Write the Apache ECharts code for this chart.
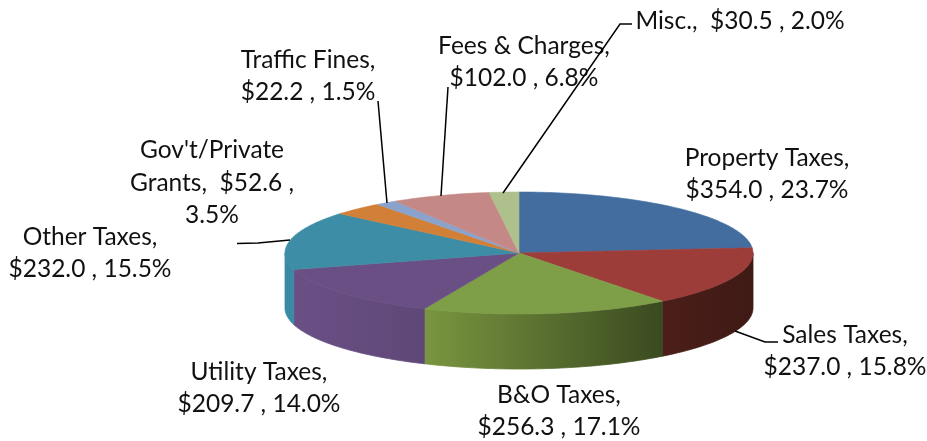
<!DOCTYPE html>
<html>
<head>
<meta charset="utf-8">
<style>html,body{margin:0;padding:0;background:#fff}#c{width:927px;height:441px}</style>
<script src="https://cdn.jsdelivr.net/npm/echarts@6/dist/echarts.min.js"></script>
</head>
<body>
<div id="c"></div>
<script>
const categories = ["Property Taxes","Sales Taxes","B&O Taxes","Utility Taxes","Other Taxes","Gov't/Private Grants","Traffic Fines","Fees & Charges","Misc."];
const values = [354.0,237.0,256.3,209.7,232.0,52.6,22.2,102.0,30.5];
const percents = ["23.7%","15.8%","17.1%","14.0%","15.5%","3.5%","1.5%","6.8%","2.0%"];

const topColors = ['#426d9e','#9c3d3a','#7f9e48','#6a4f85','#3c8da5','#d27f37','#8aa3cc','#c48886','#aec08c'];
const wallColors = [['#2f4f75','#2f4f75'],['#4c1e19','#3f1a15'],['#7a9640','#3a4a20'],['#6a4f85','#5f4878'],['#3a8aa5','#3a8aa5'],['#d27f37','#d27f37'],['#8aa3cc','#8aa3cc'],['#c48886','#c48886'],['#aec08c','#aec08c']];

// label layout: text centre [x, y], leader polyline
const labelLayout = [
  {x:767,y:174},
  {x:845,y:351},
  {x:559,y:411},
  {x:259,y:388},
  {x:90,y:253},
  {x:212,y:183},
  {x:308,y:76},
  {x:524,y:62},
  {x:740,y:21}
];
const leaders = [
  null,
  [[735,331],[765,342],[778,342]],
  null,
  null,
  [[290,240],[258,243],[237,243.5]],
  null,
  [[387,203],[378,101]],
  [[441,196],[448,87]],
  [[503,193],[620,24],[632,24]]
];

const cx = 519, cy = 253, rx = 234, ry = 61, depth = 55;
const total = values.reduce((a,b)=>a+b,0);
function bounds(i){
  let s = 0;
  for (let k=0;k<i;k++) s += values[k];
  return [s/total*Math.PI*2,(s+values[i])/total*Math.PI*2];
}
function pt(t,dy){ return [cx+rx*Math.sin(t), cy-ry*Math.cos(t)+(dy||0)]; }
function arc(a,b,dy){
  const n = Math.max(2,Math.ceil((b-a)/0.02)), out=[];
  for(let k=0;k<=n;k++) out.push(pt(a+(b-a)*k/n,dy));
  return out;
}
function labelText(i){
  const v = "$"+values[i].toFixed(1)+" , "+percents[i];
  if (i===5) return "Gov't/Private\nGrants,  $"+values[i].toFixed(1)+" ,\n"+percents[i];
  if (i===8) return categories[i]+",  "+v;
  return categories[i]+",\n"+v;
}
const seriesData = values.map((v,i)=>({name:categories[i],value:[i,v]}));
const font = 'Lato, Carlito, "Open Sans", sans-serif';
const chart = echarts.init(document.getElementById('c'));
chart.setOption({
  animation:false,
  series:[
    {type:'custom',coordinateSystem:'none',silent:true,z:1,data:seriesData,
     renderItem(p,api){
       const i=api.value(0),[a,b]=bounds(i);
       const lo=Math.max(a,Math.PI/2),hi=Math.min(b,Math.PI*1.5);
       if(hi<=lo) return {type:'group',children:[]};
       const pts=arc(lo,hi,0).concat(arc(lo,hi,depth).reverse());
       const g=new echarts.graphic.LinearGradient(0,0,1,0,[{offset:0,color:wallColors[i][0]},{offset:1,color:wallColors[i][1]}]);
       return {type:'polygon',shape:{points:pts},style:{fill:g,stroke:g,lineWidth:0.8}};
     }},
    {type:'custom',coordinateSystem:'none',silent:true,z:2,data:seriesData,
     renderItem(p,api){
       const i=api.value(0),[a,b]=bounds(i);
       const pts=[[cx,cy]].concat(arc(a,b,0));
       return {type:'polygon',shape:{points:pts},style:{fill:topColors[i],stroke:topColors[i],lineWidth:0.6}};
     }},
    {type:'custom',coordinateSystem:'none',silent:true,z:3,data:seriesData,
     renderItem(p,api){
       const i=api.value(0),l=labelLayout[i],children=[];
       if(leaders[i]) children.push({type:'polyline',shape:{points:leaders[i]},style:{fill:null,stroke:'#000',lineWidth:1.5}});
       children.push({type:'text',style:{x:l.x,y:l.y,text:labelText(i),align:'center',verticalAlign:'middle',
         font:'24.5px '+font,lineHeight:32.5,fill:'#111'}});
       return {type:'group',children};
     }}
  ]
});
</script>
</body>
</html>
